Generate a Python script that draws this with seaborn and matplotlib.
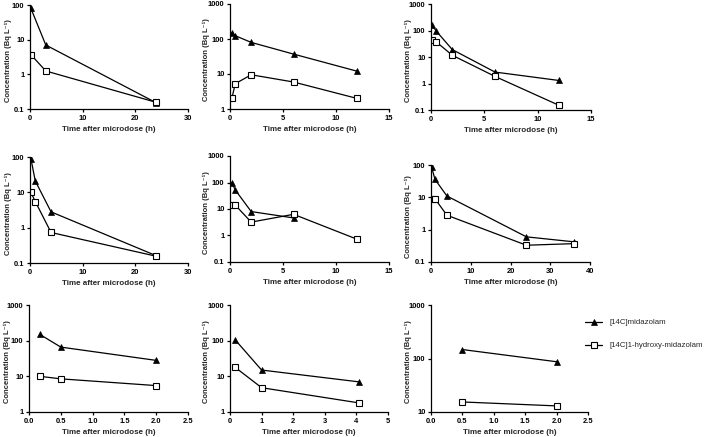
import matplotlib
matplotlib.use('Agg')
import matplotlib.pyplot as plt
import seaborn as sns
from matplotlib.ticker import FixedLocator, NullLocator

MDZ_LABEL = '[14C]midazolam'
OHM_LABEL = '[14C]1-hydroxy-midazolam'
X_LABEL = 'Time after microdose (h)'
Y_LABEL = 'Concentration (Bq L\u207b\u00b9)'

# ---- data (time in h, concentration in Bq/L) ----
t1 = [0.17, 3, 24]
mdz1 = [80, 7.0, 0.15]
ohm1 = [3.7, 1.25, 0.155]

t2 = [0.17, 0.5, 2, 6, 12]
mdz2 = [148, 124, 80, 37, 12]
ohm2 = [2.0, 5.3, 9.5, 5.9, 2.0]

t3 = [0.1, 0.5, 2, 6, 12]
mdz3 = [160, 94, 19, 2.7, 1.3]
ohm3 = [43, 37, 11.6, 1.85, 0.15]

t4 = [0.17, 1, 4, 24]
mdz4 = [90, 21, 2.8, 0.16]
ohm4 = [10, 5.5, 0.73, 0.155]

t5m = [0.17, 0.5, 2, 6]
mdz5 = [99, 52, 8.0, 4.6]
t5o = [0.17, 0.5, 2, 6, 12]
ohm5 = [14, 14, 3.2, 6.3, 0.72]

t6 = [0.17, 1, 4, 24, 36]
mdz6 = [85, 36, 11, 0.6, 0.42]
ohm6 = [9.0, 9.0, 2.8, 0.33, 0.37]

t7 = [0.17, 0.5, 2]
mdz7 = [150, 66, 28]
ohm7 = [10, 8.5, 5.5]

t8 = [0.17, 1, 4.08]
mdz8 = [104, 15, 7.0]
ohm8 = [17.7, 4.8, 1.8]

t9 = [0.5, 2]
mdz9 = [147, 87]
ohm9 = [15.4, 13]

xlims = [(0, 30), (0, 15), (0, 15), (0, 30), (0, 15), (0, 40), (0, 2.5), (0, 5), (0, 2.5)]
xticks = [[0, 10, 20, 30], [0, 5, 10, 15], [0, 5, 10, 15], [0, 10, 20, 30], [0, 5, 10, 15],
          [0, 10, 20, 30, 40], [0, 0.5, 1, 1.5, 2, 2.5], [0, 1, 2, 3, 4, 5], [0, 0.5, 1, 1.5, 2, 2.5]]
xticklabels = [['0', '10', '20', '30'], ['0', '5', '10', '15'], ['0', '5', '10', '15'],
               ['0', '10', '20', '30'], ['0', '5', '10', '15'], ['0', '10', '20', '30', '40'],
               ['0.0', '0.5', '1.0', '1.5', '2.0', '2.5'], ['0', '1', '2', '3', '4', '5'],
               ['0.0', '0.5', '1.0', '1.5', '2.0', '2.5']]
ylims = [(0.1, 100), (1, 1000), (0.1, 1000), (0.1, 100), (0.1, 1000), (0.1, 100),
         (1, 1000), (1, 1000), (10, 1000)]

series = [
    (t1, mdz1, t1, ohm1), (t2, mdz2, t2, ohm2), (t3, mdz3, t3, ohm3),
    (t4, mdz4, t4, ohm4), (t5m, mdz5, t5o, ohm5), (t6, mdz6, t6, ohm6),
    (t7, mdz7, t7, ohm7), (t8, mdz8, t8, ohm8), (t9, mdz9, t9, ohm9),
]

# axes boxes in pixels: left, top, width, height
W, H = 709, 437
boxes = [
    (30, 5, 158, 104), (230, 4, 159, 105), (431, 4, 160, 106),
    (30, 157, 158, 106), (230, 156, 159, 106), (431, 165, 159, 97),
    (29, 305, 159, 107), (230, 305, 158, 107), (431, 305, 157, 107),
]

sns.set_theme(style='ticks')
plt.rcParams['font.family'] = ['Liberation Sans', 'DejaVu Sans']
plt.rcParams['axes.linewidth'] = 0.9

fig = plt.figure(figsize=(W / 100, H / 100), dpi=100)

FS = 5.4
handles = None
for i, ((tm, ym, to, yo), box) in enumerate(zip(series, boxes)):
    l, t, w, h = box
    ax = fig.add_axes([l / W, 1 - (t + h) / H, w / W, h / H])
    sns.lineplot(x=tm, y=ym, ax=ax, color='black', linewidth=0.9, marker='^',
                 markersize=4, markeredgecolor='black', markerfacecolor='black',
                 markeredgewidth=0.5, label=MDZ_LABEL, sort=False, estimator=None)
    sns.lineplot(x=to, y=yo, ax=ax, color='black', linewidth=0.9, marker='s',
                 markersize=4.3, markeredgecolor='black', markerfacecolor='white',
                 markeredgewidth=0.8, label=OHM_LABEL, sort=False, estimator=None)
    if handles is None:
        handles, labels = ax.get_legend_handles_labels()
    if ax.get_legend() is not None:
        ax.get_legend().remove()
    ax.set_yscale('log')
    ax.set_xlim(*xlims[i])
    ax.set_ylim(*ylims[i])
    ax.xaxis.set_major_locator(FixedLocator(xticks[i]))
    ax.set_xticklabels(xticklabels[i])
    lo, hi = ylims[i]
    yt = []
    v = lo
    while v <= hi * 1.0001:
        yt.append(v)
        v *= 10
    ax.yaxis.set_major_locator(FixedLocator(yt))
    ax.set_yticklabels([('%g' % v) for v in yt])
    ax.yaxis.set_minor_locator(NullLocator())
    ax.xaxis.set_minor_locator(NullLocator())
    sns.despine(ax=ax)
    ax.tick_params(axis='both', which='major', length=2.5, width=0.9, pad=1.5,
                   labelsize=FS, colors='black')
    for lab in ax.get_xticklabels() + ax.get_yticklabels():
        lab.set_fontweight('bold')
    ax.set_xlabel(X_LABEL, fontsize=FS + 0.4, fontweight='bold', labelpad=3)
    ax.set_ylabel(Y_LABEL, fontsize=FS + 0.1, fontweight='bold')
    off = 18.0 if i % 3 == 0 else 19.5
    ax.yaxis.set_label_coords(-off / w, 0.47)
    ax.set_facecolor('white')
    for sp in ax.spines.values():
        sp.set_color('black')

fig.legend(handles, labels, loc='upper left', bbox_to_anchor=(585 / W, 1 - 319 / H),
           frameon=False, fontsize=FS + 0.2, handlelength=2.2, handletextpad=1.0,
           labelspacing=2.0, borderpad=0, borderaxespad=0)

fig.savefig('out.png', dpi=100, facecolor='white')
